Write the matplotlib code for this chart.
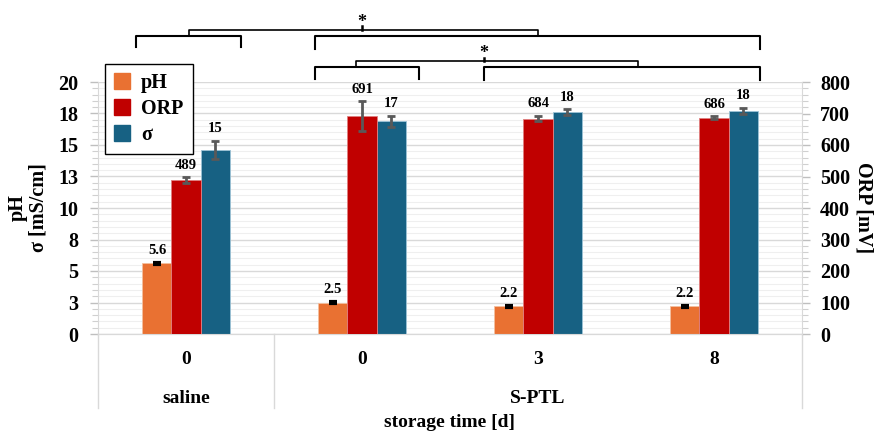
import numpy as np
import matplotlib
matplotlib.use('Agg')
from matplotlib import pyplot as plt
from matplotlib.patches import Patch
from matplotlib.ticker import MultipleLocator, FixedLocator

plt.rcParams['font.family'] = ['Liberation Serif', 'DejaVu Serif']
plt.rcParams['font.weight'] = 'bold'
plt.rcParams['axes.labelweight'] = 'bold'

# data
times = ['0', '0', '3', '8']
groups = ['saline', 'S-PTL']
ph = [5.6, 2.5, 2.2, 2.2]
ph_err = [0.05, 0.05, 0.04, 0.04]
orp = [489, 691, 684, 686]
orp_err = [9, 48, 9, 5]
sigma = [14.6, 16.9, 17.6, 17.7]
sigma_err = [0.73, 0.44, 0.22, 0.24]
left_ticks = [0, 2.5, 5, 7.5, 10, 12.5, 15, 17.5, 20]
left_labels = ['0', '3', '5', '8', '10', '13', '15', '18', '20']

c_ph = '#E97132'
c_orp = '#C00000'
c_sig = '#176183'
grid_c = '#D9D9D9'

fig = plt.figure(figsize=(8.75, 4.33), dpi=100)
ax = fig.add_axes([98 / 875, 1 - 334 / 433, 704 / 875, 252 / 433])
ax2 = ax.twinx()

x = np.arange(len(times))
w = 0.165

# gridlines
ax.yaxis.set_major_locator(FixedLocator(left_ticks))
ax.yaxis.set_minor_locator(MultipleLocator(0.5))
ax.set_ylim(0, 20)
ax.set_xlim(-0.5, 3.5)
ax.grid(axis='y', which='major', color=grid_c, lw=1)
ax.grid(axis='y', which='minor', color='#EFEFEF', lw=0.8)
ax.set_axisbelow(True)

ekw = dict(ecolor='#595959', elinewidth=2, capsize=3, capthick=2)
b1 = ax.bar(x - w, ph, w, color=c_ph, edgecolor='#F4C0A0', lw=0.6, zorder=3)
ax.errorbar(x - w, ph, yerr=ph_err, fmt='none', ecolor='black', elinewidth=3,
            capsize=3, capthick=3, zorder=4)
b3 = ax.bar(x + w, sigma, w, color=c_sig, edgecolor='#9DC3D6', lw=0.6, zorder=3)
ax.errorbar(x + w, sigma, yerr=sigma_err, fmt='none', zorder=4, **ekw)
b2 = ax2.bar(x, orp, w, color=c_orp, edgecolor='#E08080', lw=0.6, zorder=3)
ax2.errorbar(x, orp, yerr=orp_err, fmt='none', zorder=4, **ekw)
ax2.set_ylim(0, 800)
ax2.yaxis.set_major_locator(MultipleLocator(100))
ax2.yaxis.set_minor_locator(MultipleLocator(20))

# value labels
for i in range(len(x)):
    ax.annotate(f'{ph[i]:.1f}', (x[i] - w, ph[i] + ph_err[i]), xytext=(0, 4),
                textcoords='offset points', ha='center', va='bottom', fontsize=10.5)
    ax.annotate(f'{round(sigma[i])}', (x[i] + w, sigma[i] + sigma_err[i]), xytext=(0, 4),
                textcoords='offset points', ha='center', va='bottom', fontsize=10.5)
    ax2.annotate(f'{orp[i]}', (x[i], orp[i] + orp_err[i]), xytext=(0, 4),
                 textcoords='offset points', ha='center', va='bottom', fontsize=10.5)

# axes styling
ax.set_xticks([])
ax.set_yticklabels(left_labels)
for a in (ax, ax2):
    for s in a.spines.values():
        s.set_color(grid_c)
    a.spines['top'].set_visible(False)
    a.tick_params(axis='y', which='major', colors='#BFBFBF', labelcolor='black',
                  labelsize=14.5, length=6, width=1)
    a.tick_params(axis='y', which='minor', colors='#D0D0D0', length=4, width=0.8)
ax.spines['right'].set_visible(False)
ax2.spines['left'].set_visible(False)
ax.tick_params(axis='y', pad=8)
ax2.tick_params(axis='y', pad=7)

ax.set_ylabel('pH\nσ [mS/cm]', fontsize=14.5, linespacing=1.0)
ax2.set_ylabel('ORP [mV]', fontsize=14.5, rotation=270, va='center')
ax.yaxis.set_label_coords(-0.071, 0.5)
ax2.yaxis.set_label_coords(1.088, 0.5)

# category axis below the plot
tr = ax.get_xaxis_transform()
for xs in (-0.5, 0.5, 3.5):
    ax.plot([xs, xs], [0, -0.295], color=grid_c, lw=1, transform=tr, clip_on=False)
for i, t in enumerate(times):
    ax.text(x[i], -0.103, t, transform=tr, ha='center', va='center', fontsize=14)
ax.text(0, -0.254, groups[0], transform=tr, ha='center', va='center', fontsize=14)
ax.text(2, -0.254, groups[1], transform=tr, ha='center', va='center', fontsize=14)
ax.text(1.5, -0.35, 'storage time [d]', transform=tr, ha='center', va='center', fontsize=14)


# significance brackets
def bracket(x0, x1, y, drop):
    ax.plot([x0, x0, x1, x1], [y - drop, y, y, y - drop], color='black', lw=1.5,
            transform=tr, clip_on=False, solid_joinstyle='round')


def link(x0, x1, ylow, yhigh, xs, ystar):
    ax.plot([x0, x0, x1, x1], [ylow, yhigh, yhigh, ylow], color='black', lw=1.2,
            transform=tr, clip_on=False)
    ax.plot([xs, xs], [yhigh, yhigh + 0.014], color='black', lw=1.8, transform=tr, clip_on=False)
    ax.text(xs, ystar, '*', transform=tr, ha='center', va='center', fontsize=13)


bracket(-0.284, 0.3125, 1.183, 0.044)
bracket(0.733, 3.26, 1.183, 0.052)
link(0.017, 2.0, 1.183, 1.207, 1.0, 1.237)
bracket(0.733, 1.324, 1.060, 0.048)
bracket(1.693, 3.26, 1.060, 0.052)
link(0.966, 2.57, 1.060, 1.083, 1.693, 1.115)

handles = [Patch(color=c_ph), Patch(color=c_orp), Patch(color=c_sig)]
fig.legend(handles, ['pH', 'ORP', 'σ'], loc='upper left',
           bbox_to_anchor=(105 / 875, 1 - 64 / 433), borderaxespad=0,
           fancybox=False, edgecolor='black', framealpha=1, fontsize=14.5,
           handlelength=0.8, handleheight=0.8, labelspacing=0.3, borderpad=0.45,
           handletextpad=0.55)

fig.savefig('out.png', dpi=100)
